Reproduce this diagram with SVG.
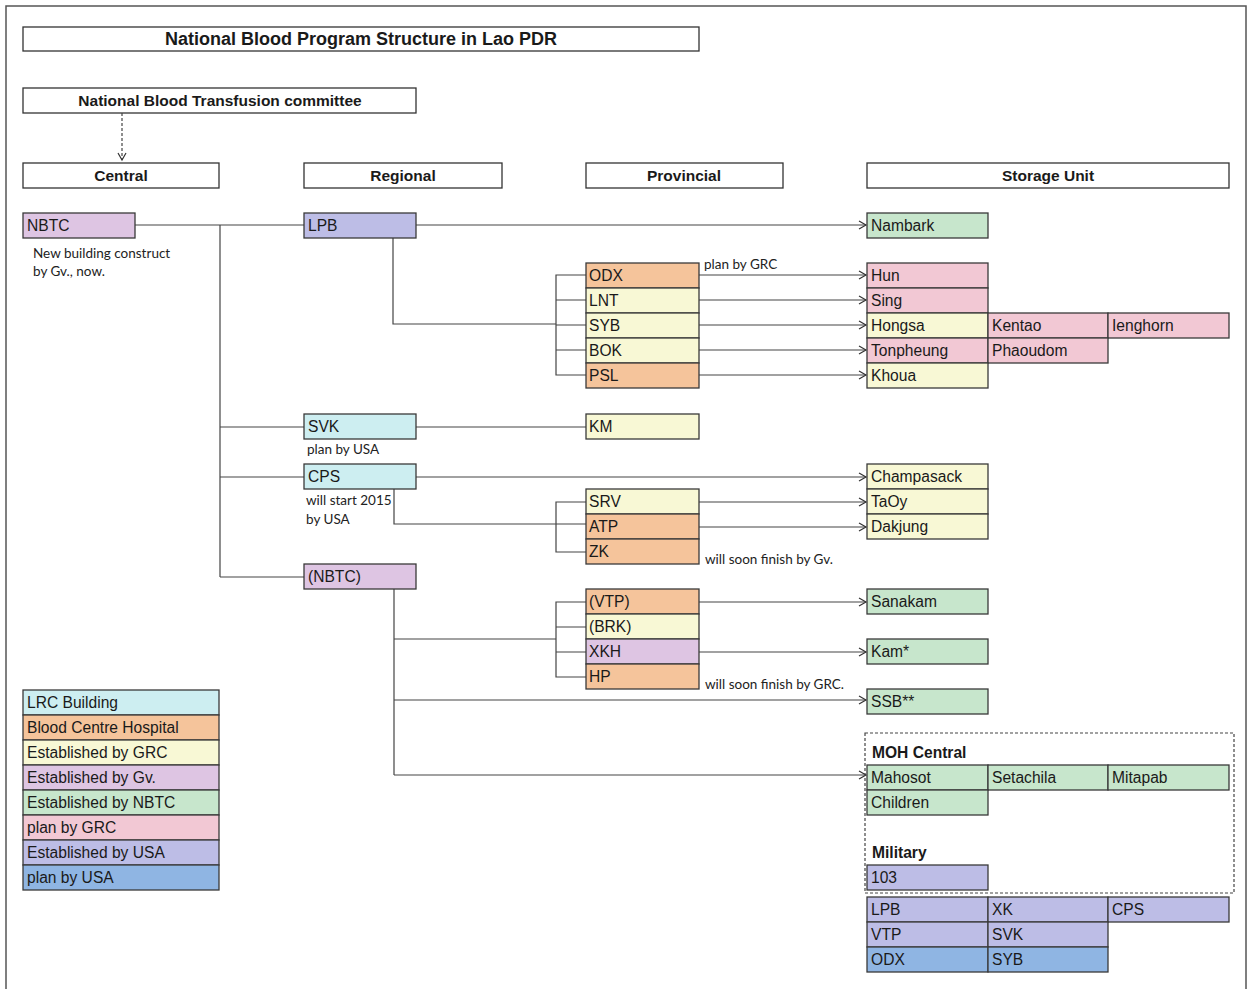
<svg xmlns="http://www.w3.org/2000/svg" width="1249" height="989" viewBox="0 0 1249 989">
<style>
.frame{fill:none;stroke:#555;stroke-width:1.5}
.hb{fill:#fff;stroke:#333;stroke-width:1.3}
.b{stroke:#3a3a3a;stroke-width:1.3}
.cy{fill:#cdeef1}.or{fill:#f5c49b}.ye{fill:#f8f8d5}.gv{fill:#dec5e3}.gr{fill:#c7e6cc}.pk{fill:#f2c8d4}.us{fill:#bdbde6}.pu{fill:#8fb5e3}
.t{font-family:"Liberation Sans",Arial,sans-serif;font-size:15.6px;fill:#1a1a1a}
.h{font-family:"Liberation Sans",Arial,sans-serif;font-size:15.5px;font-weight:bold;fill:#1a1a1a;text-anchor:middle}
.n{font-family:Lato,"Open Sans",sans-serif;font-size:13.5px;fill:#222}
.c{fill:none;stroke:#444;stroke-width:1.2}
</style>
<defs>
<marker id="ah" markerWidth="10" markerHeight="10" refX="8" refY="5" orient="auto" markerUnits="userSpaceOnUse">
<path d="M1,1 L8,5 L1,9" fill="none" stroke="#333" stroke-width="1.2"/>
</marker>
</defs>
<rect width="1249" height="989" fill="#fff"/>
<path class="frame" d="M6,989 V6 H1246 V989"/>

<g id="title"><rect class="hb" x="23" y="27" width="676" height="24"/><text class="h" x="361" y="45" style="font-size:18px">National Blood Program Structure in Lao PDR</text></g>
<g id="committee"><rect class="hb" x="23" y="88" width="393" height="25"/><text class="h" x="220" y="106" style="font-size:15.5px">National Blood Transfusion committee</text></g>
<g id="hdr-central"><rect class="hb" x="23" y="163" width="196" height="25"/><text class="h" x="121" y="181">Central</text></g>
<g id="hdr-regional"><rect class="hb" x="304" y="163" width="198" height="25"/><text class="h" x="403" y="181">Regional</text></g>
<g id="hdr-provincial"><rect class="hb" x="586" y="163" width="197" height="25"/><text class="h" x="684" y="181">Provincial</text></g>
<g id="hdr-storage"><rect class="hb" x="867" y="163" width="362" height="25"/><text class="h" x="1048" y="181">Storage Unit</text></g>

<g id="connectors">
<path class="c" d="M122,113 V160" stroke-dasharray="3,2" marker-end="url(#ah)"/>
<path class="c" d="M135,225 H304"/>
<path class="c" d="M220,225 V577"/>
<path class="c" d="M220,427 H304"/>
<path class="c" d="M220,477 H304"/>
<path class="c" d="M220,577 H304"/>
<path class="c" d="M416,225 H866" marker-end="url(#ah)"/>
<path class="c" d="M393,238 V324 H556"/>
<path class="c" d="M586,275 H556 V375 H586 M556,300 H586 M556,325 H586 M556,350 H586"/>
<path class="c" d="M699,275 H866" marker-end="url(#ah)"/>
<path class="c" d="M699,300 H866" marker-end="url(#ah)"/>
<path class="c" d="M699,325 H866" marker-end="url(#ah)"/>
<path class="c" d="M699,350 H866" marker-end="url(#ah)"/>
<path class="c" d="M699,375 H866" marker-end="url(#ah)"/>
<path class="c" d="M416,427 H586"/>
<path class="c" d="M416,477 H866" marker-end="url(#ah)"/>
<path class="c" d="M394,489 V524 H586"/>
<path class="c" d="M586,502 H556 V552 H586"/>
<path class="c" d="M699,502 H866" marker-end="url(#ah)"/>
<path class="c" d="M699,527 H866" marker-end="url(#ah)"/>
<path class="c" d="M394,589 V775"/>
<path class="c" d="M394,639 H556"/>
<path class="c" d="M586,602 H556 V677 H586 M556,627 H586 M556,652 H586"/>
<path class="c" d="M699,602 H866" marker-end="url(#ah)"/>
<path class="c" d="M699,652 H866" marker-end="url(#ah)"/>
<path class="c" d="M394,700 H866" marker-end="url(#ah)"/>
<path class="c" d="M394,775 H866" marker-end="url(#ah)"/>
</g>

<g id="nbtc"><rect class="b gv" x="23" y="213" width="112" height="25"/><text class="t" x="27" y="231">NBTC</text>
<text class="n" x="33" y="258">New building construct</text><text class="n" x="33" y="276">by Gv., now.</text></g>

<g id="lpb"><rect class="b us" x="304" y="213" width="112" height="25"/><text class="t" x="308" y="231">LPB</text></g>
<g id="svk"><rect class="b cy" x="304" y="414" width="112" height="25"/><text class="t" x="308" y="432">SVK</text><text class="n" x="307" y="454">plan by USA</text></g>
<g id="cps"><rect class="b cy" x="304" y="464" width="112" height="25"/><text class="t" x="308" y="482">CPS</text><text class="n" x="306" y="505">will start 2015</text><text class="n" x="306" y="524">by USA</text></g>
<g id="nbtc2"><rect class="b gv" x="304" y="564" width="112" height="25"/><text class="t" x="308" y="582">(NBTC)</text></g>

<g id="odx"><rect class="b or" x="586" y="263" width="113" height="25"/><text class="t" x="589" y="281">ODX</text></g>
<text class="n" x="704" y="269">plan by GRC</text>
<g id="lnt"><rect class="b ye" x="586" y="288" width="113" height="25"/><text class="t" x="589" y="306">LNT</text></g>
<g id="syb"><rect class="b ye" x="586" y="313" width="113" height="25"/><text class="t" x="589" y="331">SYB</text></g>
<g id="bok"><rect class="b ye" x="586" y="338" width="113" height="25"/><text class="t" x="589" y="356">BOK</text></g>
<g id="psl"><rect class="b or" x="586" y="363" width="113" height="25"/><text class="t" x="589" y="381">PSL</text></g>
<g id="km"><rect class="b ye" x="586" y="414" width="113" height="25"/><text class="t" x="589" y="432">KM</text></g>
<g id="srv"><rect class="b ye" x="586" y="489" width="113" height="25"/><text class="t" x="589" y="507">SRV</text></g>
<g id="atp"><rect class="b or" x="586" y="514" width="113" height="25"/><text class="t" x="589" y="532">ATP</text></g>
<g id="zk"><rect class="b or" x="586" y="539" width="113" height="25"/><text class="t" x="589" y="557">ZK</text><text class="n" x="705" y="564">will soon finish by Gv.</text></g>
<g id="vtp"><rect class="b or" x="586" y="589" width="113" height="25"/><text class="t" x="589" y="607">(VTP)</text></g>
<g id="brk"><rect class="b ye" x="586" y="614" width="113" height="25"/><text class="t" x="589" y="632">(BRK)</text></g>
<g id="xkh"><rect class="b gv" x="586" y="639" width="113" height="25"/><text class="t" x="589" y="657">XKH</text></g>
<g id="hp"><rect class="b or" x="586" y="664" width="113" height="25"/><text class="t" x="589" y="682">HP</text><text class="n" x="705" y="689">will soon finish by GRC.</text></g>

<g id="nambark"><rect class="b gr" x="867" y="213" width="121" height="25"/><text class="t" x="871" y="231">Nambark</text></g>
<g id="hun"><rect class="b pk" x="867" y="263" width="121" height="25"/><text class="t" x="871" y="281">Hun</text></g>
<g id="sing"><rect class="b pk" x="867" y="288" width="121" height="25"/><text class="t" x="871" y="306">Sing</text></g>
<g id="hongsa"><rect class="b ye" x="867" y="313" width="121" height="25"/><text class="t" x="871" y="331">Hongsa</text></g>
<g id="kentao"><rect class="b pk" x="988" y="313" width="120" height="25"/><text class="t" x="992" y="331">Kentao</text></g>
<g id="ienghorn"><rect class="b pk" x="1108" y="313" width="121" height="25"/><text class="t" x="1112" y="331">Ienghorn</text></g>
<g id="tonpheung"><rect class="b pk" x="867" y="338" width="121" height="25"/><text class="t" x="871" y="356">Tonpheung</text></g>
<g id="phaoudom"><rect class="b pk" x="988" y="338" width="120" height="25"/><text class="t" x="992" y="356">Phaoudom</text></g>
<g id="khoua"><rect class="b ye" x="867" y="363" width="121" height="25"/><text class="t" x="871" y="381">Khoua</text></g>
<g id="champasack"><rect class="b ye" x="867" y="464" width="121" height="25"/><text class="t" x="871" y="482">Champasack</text></g>
<g id="taoy"><rect class="b ye" x="867" y="489" width="121" height="25"/><text class="t" x="871" y="507">TaOy</text></g>
<g id="dakjung"><rect class="b ye" x="867" y="514" width="121" height="25"/><text class="t" x="871" y="532">Dakjung</text></g>
<g id="sanakam"><rect class="b gr" x="867" y="589" width="121" height="25"/><text class="t" x="871" y="607">Sanakam</text></g>
<g id="kam"><rect class="b gr" x="867" y="639" width="121" height="25"/><text class="t" x="871" y="657">Kam*</text></g>
<g id="ssb"><rect class="b gr" x="867" y="689" width="121" height="25"/><text class="t" x="871" y="707">SSB**</text></g>

<g id="moh-military">
<rect x="865" y="733" width="369" height="160" fill="none" stroke="#444" stroke-width="1.2" stroke-dasharray="3,2"/>
<text class="t" x="872" y="758" style="font-weight:bold">MOH Central</text>
<rect class="b gr" x="867" y="765" width="121" height="25"/><text class="t" x="871" y="783">Mahosot</text>
<rect class="b gr" x="988" y="765" width="120" height="25"/><text class="t" x="992" y="783">Setachila</text>
<rect class="b gr" x="1108" y="765" width="121" height="25"/><text class="t" x="1112" y="783">Mitapab</text>
<rect class="b gr" x="867" y="790" width="121" height="25"/><text class="t" x="871" y="808">Children</text>
<text class="t" x="872" y="858" style="font-weight:bold">Military</text>
<rect class="b us" x="867" y="865" width="121" height="25"/><text class="t" x="871" y="883">103</text>
</g>

<g id="usa-units">
<rect class="b us" x="867" y="897" width="121" height="25"/><text class="t" x="871" y="915">LPB</text>
<rect class="b us" x="988" y="897" width="120" height="25"/><text class="t" x="992" y="915">XK</text>
<rect class="b us" x="1108" y="897" width="121" height="25"/><text class="t" x="1112" y="915">CPS</text>
<rect class="b us" x="867" y="922" width="121" height="25"/><text class="t" x="871" y="940">VTP</text>
<rect class="b us" x="988" y="922" width="120" height="25"/><text class="t" x="992" y="940">SVK</text>
<rect class="b pu" x="867" y="947" width="121" height="25"/><text class="t" x="871" y="965">ODX</text>
<rect class="b pu" x="988" y="947" width="120" height="25"/><text class="t" x="992" y="965">SYB</text>
</g>

<g id="legend">
<rect class="b cy" x="23" y="690" width="196" height="25"/><text class="t" x="27" y="708">LRC Building</text>
<rect class="b or" x="23" y="715" width="196" height="25"/><text class="t" x="27" y="733">Blood Centre Hospital</text>
<rect class="b ye" x="23" y="740" width="196" height="25"/><text class="t" x="27" y="758">Established by GRC</text>
<rect class="b gv" x="23" y="765" width="196" height="25"/><text class="t" x="27" y="783">Established by Gv.</text>
<rect class="b gr" x="23" y="790" width="196" height="25"/><text class="t" x="27" y="808">Established by NBTC</text>
<rect class="b pk" x="23" y="815" width="196" height="25"/><text class="t" x="27" y="833">plan by GRC</text>
<rect class="b us" x="23" y="840" width="196" height="25"/><text class="t" x="27" y="858">Established by USA</text>
<rect class="b pu" x="23" y="865" width="196" height="25"/><text class="t" x="27" y="883">plan by USA</text>
</g>
</svg>
